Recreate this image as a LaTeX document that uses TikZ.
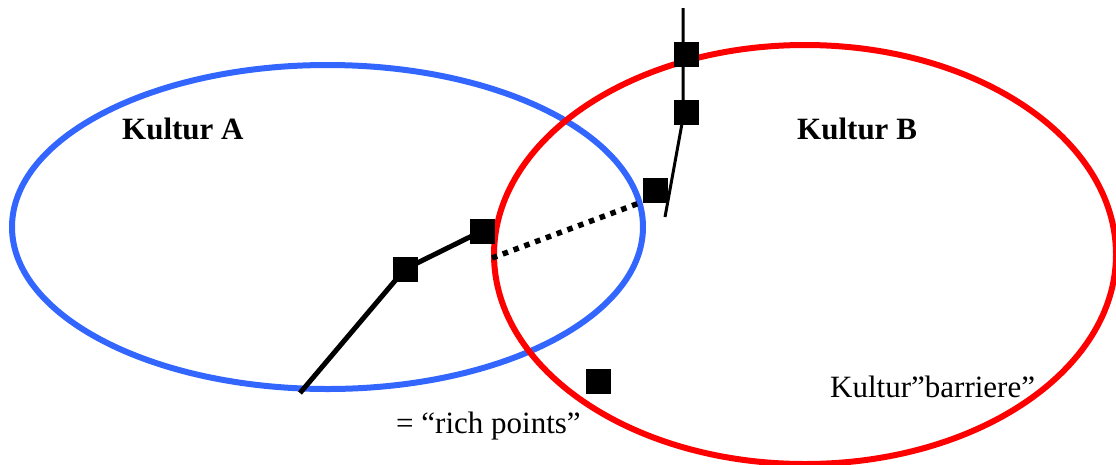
\documentclass[tikz,border=0pt]{standalone}
\usepackage{fontspec}
\setmainfont{Liberation Serif}
\definecolor{kblue}{RGB}{51,102,255}
\definecolor{kred}{RGB}{255,0,0}
\pgfdeclarelayer{ell}
\pgfdeclarelayer{lines}
\pgfsetlayers{ell,lines,main}
\begin{document}
\begin{tikzpicture}[x=1pt,y=-1pt,
  rp/.style={fill=black,draw=none,minimum size=25pt,inner sep=0pt,shape=rectangle},
  lbl/.style={anchor=base west,inner sep=0pt,font=\fontsize{31}{36}\selectfont},
  lblb/.style={lbl,font=\fontsize{31}{36}\selectfont\bfseries},
  pathline/.style={line width=5pt,black},
  thinline/.style={line width=3pt,black},
  dotline/.style={line width=5.5pt,black,dash pattern=on 5.5pt off 6pt},
  ellline/.style={line width=6pt}]
\useasboundingbox (0,0) rectangle (1116,464);
\clip (0,0) rectangle (1116,464);
% squares (rich points)
\node[rp] (s1) at (405,269) {};
\node[rp] (s2) at (482,231) {};
\node[rp] (s3) at (655,190) {};
\node[rp] (s4) at (686,112) {};
\node[rp] (s5) at (686,54) {};
\node[rp] (s6) at (598,381) {};
% free ends
\coordinate (start) at (300,393);
\coordinate (top) at (683,8);
\coordinate (bend) at (683,118);
\coordinate (vend) at (665,217);
\coordinate (dA) at (492,258);
\coordinate (dB) at (642,202);
\begin{pgfonlayer}{ell}
\draw[kblue,ellline] (327.5,227) ellipse [x radius=315.5, y radius=162];
\draw[kred,ellline] (805,254.5) ellipse [x radius=311, y radius=209.5];
\end{pgfonlayer}
\begin{pgfonlayer}{lines}
\draw[pathline] (start) -- (s1.center) -- (s2.center);
\draw[dotline] (dA) -- (dB);
\draw[thinline] (top) -- (bend) -- (vend);
\end{pgfonlayer}
% labels
\node[lblb] (ka) at (122,139) {Kultur A};
\node[lblb] (kb) at (797,139) {Kultur B};
\node[lbl] (rich) at (396,433) {= “rich points”};
\node[lbl] (barr) at (830,397) {Kultur”barriere”};
\end{tikzpicture}
\end{document}
